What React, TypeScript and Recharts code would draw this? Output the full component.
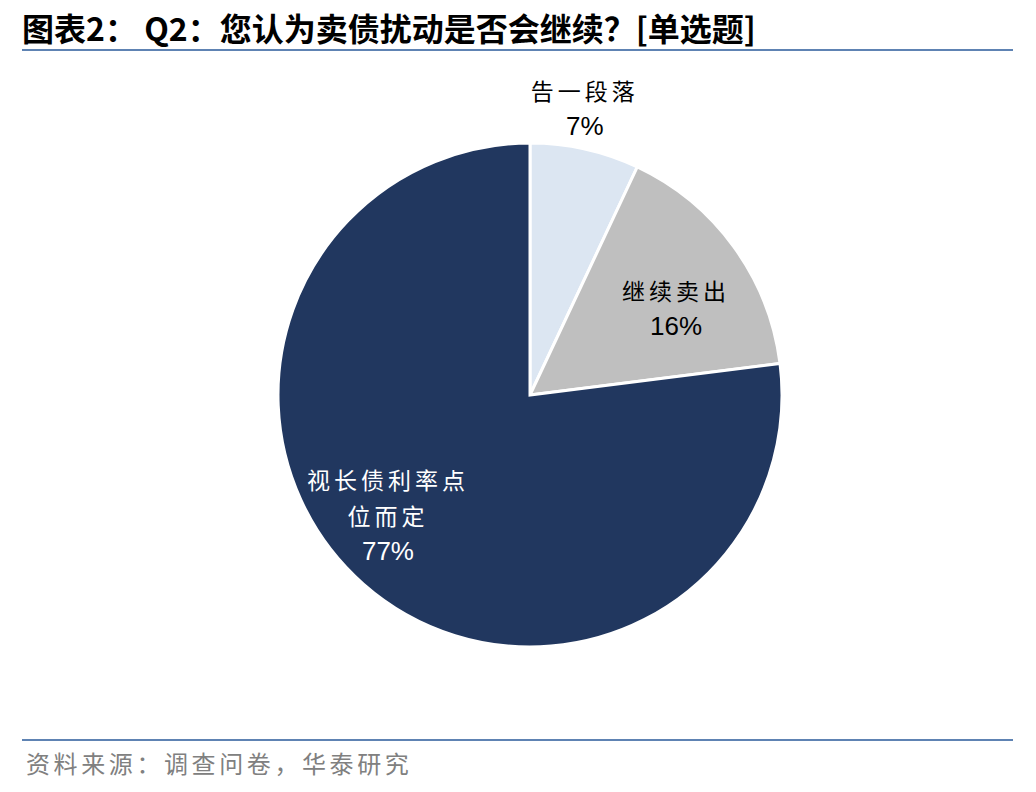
import React from 'react';
import { PieChart, Pie, Cell } from 'recharts';

const categories = ['告一段落', '继续卖出', '视长债利率点位而定'];
const shares = [7, 16, 77];
const labelLines = [['告一段落'], ['继续卖出'], ['视长债利率点', '位而定']];

const colors = ['#DCE6F2', '#BFBFBF', '#21375F'];
const textColors = ['#000000', '#000000', '#FFFFFF'];
// label placement tweaks (radius factor, angle nudge in degrees)
const labelPos = [
  { r: 1.16, da: 1.8 },
  { r: 0.675, da: -5.2 },
  { r: 0.738, da: -8.4 },
];

const data = categories.map((name, i) => ({ name, value: shares[i] }));

const RADIAN = Math.PI / 180;
const cjk = '"Noto Sans CJK SC", sans-serif';

const renderLabel = (props: any) => {
  const { cx, cy, midAngle, outerRadius, index, value } = props;
  const p = labelPos[index];
  const a = (midAngle + p.da) * RADIAN;
  const x = cx + outerRadius * p.r * Math.cos(a);
  const y = cy - outerRadius * p.r * Math.sin(a);
  const lines = labelLines[index];
  const lh = 36;
  const total = lines.length + 1;
  const y0 = y - ((total - 1) * lh) / 2;
  return (
    <g>
      {lines.map((t, k) => (
        <text key={k} x={x} y={y0 + k * lh} fill={textColors[index]} textAnchor="middle"
          dominantBaseline="central" fontFamily={cjk} fontSize={23} letterSpacing={4}>
          {t}
        </text>
      ))}
      <text x={x} y={y0 + lines.length * lh} fill={textColors[index]} textAnchor="middle"
        dominantBaseline="central" fontFamily='"Liberation Sans", Arial, sans-serif' fontSize={26}>
        {value}%
      </text>
    </g>
  );
};

export default function App() {
  return (
    <div style={{ position: 'absolute', left: 0, top: 0, width: 1036, height: 792, background: '#fff', overflow: 'hidden' }}>
      <div style={{ position: 'absolute', left: 22, top: 4, fontFamily: cjk, fontWeight: 700, fontSize: 32, color: '#000', whiteSpace: 'nowrap' }}>
        图表2：&nbsp;Q2：您认为卖债扰动是否会继续？[单选题]
      </div>
      <div style={{ position: 'absolute', left: 22, top: 49, width: 991, height: 2, background: '#5E83B3' }} />
      <div style={{ position: 'absolute', left: 0, top: 0 }}>
        <PieChart width={1036} height={792} margin={{ top: 0, right: 0, bottom: 0, left: 0 }}>
          <Pie
            data={data}
            dataKey="value"
            nameKey="name"
            cx={530}
            cy={395}
            outerRadius={252}
            startAngle={90}
            endAngle={-270}
            stroke="#FFFFFF"
            strokeWidth={3}
            label={renderLabel}
            labelLine={false}
            isAnimationActive={false}
          >
            {data.map((d, i) => (
              <Cell key={d.name} fill={colors[i]} />
            ))}
          </Pie>
        </PieChart>
      </div>
      <div style={{ position: 'absolute', left: 22, top: 739, width: 991, height: 2, background: '#5E83B3' }} />
      <div style={{ position: 'absolute', left: 26, top: 745, fontFamily: cjk, fontSize: 24, color: '#808080', letterSpacing: 3.6, whiteSpace: 'nowrap' }}>
        资料来源：调查问卷，华泰研究
      </div>
    </div>
  );
}
